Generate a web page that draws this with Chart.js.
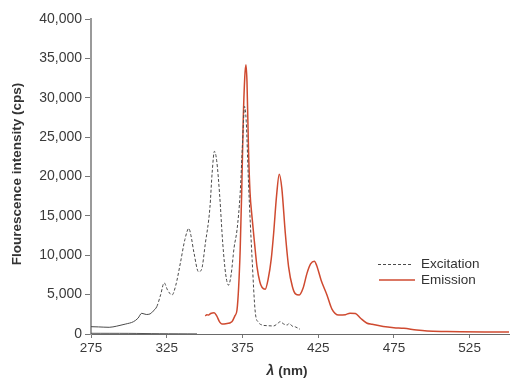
<!DOCTYPE html>
<html>
<head>
<meta charset="utf-8">
<script src="https://cdn.jsdelivr.net/npm/chart.js@4"></script>
<style>
  html, body { margin: 0; padding: 0; background: #fff; }
  #wrap { width: 530px; height: 381px; }
</style>
</head>
<body>
<div id="wrap"><canvas id="c" width="530" height="381"></canvas></div>
<script>
// ---- Data ----
const excWavelength = [275,280,287,292,298,303,306,308.5,311.5,314,316,318.5,321,323.3,325.5,328.5,331,334,337,339.6,341,343,346,348,350.5,353.5,355,356.5,358,360,362,364,365.8,367.5,369.5,371.4,373.5,375,376.4,377.5,379,381.3,383.5,385.5,388,392,395.6,398,400,402,404.4,406,407.7,410,413];
const excIntensity  = [930,900,850,1000,1270,1560,2000,2630,2480,2550,2900,3500,5000,6500,5600,4950,6200,9000,12000,13400,12500,10300,7900,8200,11500,16000,20500,23200,22000,17500,11500,7500,6200,7500,11000,13200,17900,24000,28900,27000,19200,9800,2700,1500,1140,1050,1020,1300,1560,1300,1140,1350,1020,900,600];

const emWavelength = [350.4,351.5,352.6,354,356.3,358,360,361.4,364,368,370,371.4,372.5,373.5,374.5,375.5,376.5,377.3,378,379,380,381.3,383,384.6,386.5,388,390,392,394,395.6,397.5,399.3,401,403.3,405.5,408,410,412.5,415,417.6,420,422.5,424,427,430.8,434,438.5,443,446,449.6,453,457,460.6,468,475,481.6,490,497,510,519,535,551];
const emIntensity  = [2290,2450,2400,2600,2710,2300,1500,1270,1300,1560,2300,3050,6000,10700,18000,27000,32500,34200,32000,23400,18000,14900,11500,8550,6600,5900,5680,7000,9500,12800,17500,20300,18500,12800,8500,6000,5100,4960,5800,7700,8900,9250,8700,6800,4960,3200,2410,2450,2650,2600,2000,1400,1230,950,800,720,500,380,320,290,260,250];

const baseWavelength = [275,300,320,345];
const baseIntensity  = [90,80,40,15];

const xTicks = [275,325,375,425,475,525];
const yTicks = [0,5000,10000,15000,20000,25000,30000,35000,40000];

const seriesNames = ['Excitation','Emission'];
const yTitle = 'Flourescence intensity (cps)';
const xTitleSymbol = 'λ';
const xTitleUnit = ' (nm)';

// ---- Build ----
const toPts = (xs, ys) => xs.map((x, i) => ({x: x, y: ys[i]}));
const FONT = '"Liberation Sans", Arial, Helvetica, sans-serif';
const RED = '#cf4a30';
const DARK = '#4a4a4a';
const DASH = [3, 2];

const overlay = {
  id: 'overlay',
  afterDraw(chart) {
    const ctx = chart.ctx;
    ctx.save();
    ctx.fillStyle = '#333';
    // y title
    ctx.font = 'bold 13.5px ' + FONT;
    ctx.textAlign = 'center';
    ctx.textBaseline = 'middle';
    ctx.translate(17, 174);
    ctx.rotate(-Math.PI / 2);
    ctx.fillText(yTitle, 0, 0);
    ctx.setTransform(1, 0, 0, 1, 0, 0);
    // x title
    ctx.textAlign = 'left';
    ctx.font = 'italic bold 14px ' + FONT;
    const w1 = ctx.measureText(xTitleSymbol).width;
    ctx.font = 'bold 13.5px ' + FONT;
    const w2 = ctx.measureText(xTitleUnit).width;
    const sx = 287 - (w1 + w2) / 2;
    ctx.font = 'italic bold 14px ' + FONT;
    ctx.fillText(xTitleSymbol, sx, 371);
    ctx.font = 'bold 13.5px ' + FONT;
    ctx.fillText(xTitleUnit, sx + w1, 371);
    // legend
    ctx.font = '13.5px ' + FONT;
    ctx.fillStyle = '#333';
    ctx.lineWidth = 1;
    ctx.strokeStyle = DARK;
    ctx.setLineDash(DASH);
    ctx.beginPath(); ctx.moveTo(378, 264.5); ctx.lineTo(413, 264.5); ctx.stroke();
    ctx.setLineDash([]);
    ctx.strokeStyle = RED;
    ctx.lineWidth = 1.5;
    ctx.beginPath(); ctx.moveTo(379, 280); ctx.lineTo(415, 280); ctx.stroke();
    ctx.fillText(seriesNames[0], 421, 264);
    ctx.fillText(seriesNames[1], 421, 280);
    ctx.restore();
  }
};

new Chart(document.getElementById('c'), {
  type: 'line',
  data: {
    datasets: [
      {
        label: seriesNames[0],
        data: toPts(excWavelength, excIntensity),
        borderColor: DARK,
        borderWidth: 1,
        pointRadius: 0,
        cubicInterpolationMode: 'monotone',
        segment: {
          borderDash: c => (c.p0.parsed.x >= 318 ? DASH : [])
        }
      },
      {
        label: seriesNames[1],
        data: toPts(emWavelength, emIntensity),
        borderColor: RED,
        borderWidth: 1.5,
        pointRadius: 0,
        cubicInterpolationMode: 'monotone'
      },
      {
        label: 'baseline',
        data: toPts(baseWavelength, baseIntensity),
        borderColor: '#555',
        borderWidth: 1,
        pointRadius: 0,
        tension: 0.3
      }
    ]
  },
  options: {
    responsive: false,
    devicePixelRatio: 1,
    animation: false,
    layout: { padding: { top: 19, right: 21, left: 0, bottom: 0 } },
    plugins: { legend: { display: false }, tooltip: { enabled: false } },
    scales: {
      x: {
        type: 'linear',
        min: 275,
        max: 551,
        afterFit: s => { s.height = 47; },
        afterBuildTicks: s => { s.ticks = xTicks.map(v => ({value: v})); },
        border: { color: '#6a6a6a', width: 1 },
        grid: { drawOnChartArea: false, tickLength: 4, color: '#777' },
        ticks: { color: '#3a3a3a', font: { family: FONT, size: 13.5 }, padding: 2, maxRotation: 0 }
      },
      y: {
        min: 0,
        max: 40000,
        afterFit: s => { s.width = 91; },
        afterBuildTicks: s => { s.ticks = yTicks.map(v => ({value: v})); },
        border: { color: '#9a9a9a', width: 2 },
        grid: { drawOnChartArea: false, tickLength: 6, color: '#777' },
        ticks: { color: '#3a3a3a', font: { family: FONT, size: 14 }, padding: 3 }
      }
    }
  },
  plugins: [overlay]
});
</script>
</body>
</html>
